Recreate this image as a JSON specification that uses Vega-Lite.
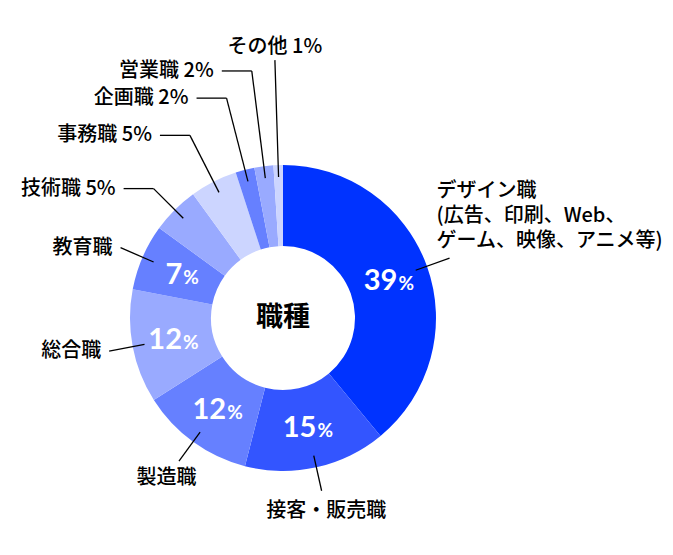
{
  "$schema": "https://vega.github.io/schema/vega-lite/v6.json",
  "width": 566,
  "height": 474,
  "autosize": "none",
  "padding": {"left": 0, "top": 81, "right": 107, "bottom": 0},
  "background": "white",
  "config": {"view": {"stroke": null}},
  "data": {
    "values": [
      {"order": 1, "category": "デザイン職", "value": 39, "label": "デザイン職\n(広告、印刷、Web、\nゲーム、映像、アニメ等)"},
      {"order": 2, "category": "接客・販売職", "value": 15, "label": "接客・販売職"},
      {"order": 3, "category": "製造職", "value": 12, "label": "製造職"},
      {"order": 4, "category": "総合職", "value": 12, "label": "総合職"},
      {"order": 5, "category": "教育職", "value": 7, "label": "教育職"},
      {"order": 6, "category": "技術職", "value": 5, "label": "技術職 5%"},
      {"order": 7, "category": "事務職", "value": 5, "label": "事務職 5%"},
      {"order": 8, "category": "企画職", "value": 2, "label": "企画職 2%"},
      {"order": 9, "category": "営業職", "value": 2, "label": "営業職 2%"},
      {"order": 10, "category": "その他", "value": 1, "label": "その他 1%"}
    ]
  },
  "transform": [
    {"window": [{"op": "sum", "field": "value", "as": "end"}], "sort": [{"field": "order", "order": "ascending"}]},
    {"calculate": "datum.end - datum.value", "as": "start"},
    {"calculate": "(datum.start + datum.value / 2) * 3.6", "as": "deg"},
    {"calculate": "datum.deg * PI / 180", "as": "rad"},
    {"calculate": "max(177, min(258, 271 - 22 * (10 - datum.order)))", "as": "re"},
    {"calculate": "141 * sin(datum.rad)", "as": "ix"},
    {"calculate": "141 * cos(datum.rad)", "as": "iy"},
    {"calculate": "datum.re * sin(datum.rad)", "as": "ex"},
    {"calculate": "datum.re * cos(datum.rad)", "as": "ey"},
    {"calculate": "datum.deg > 300 && datum.deg < 357 ? datum.ex - 30 : datum.ex", "as": "hx"},
    {"calculate": "198 * sin(datum.rad)", "as": "bx"},
    {"calculate": "198 * cos(datum.rad)", "as": "by"},
    {"calculate": "112 * sin(datum.rad)", "as": "px"},
    {"calculate": "112 * cos(datum.rad)", "as": "py"},
    {"calculate": "datum.px + (datum.value >= 10 ? 9 : 2)", "as": "nx"},
    {"calculate": "datum.deg >= 357 ? 'top' : (datum.deg > 30 && datum.deg < 135) ? 'right' : (datum.deg >= 135 && datum.deg <= 225) ? 'bottom' : 'left'", "as": "side"}
  ],
  "layer": [
    {
      "mark": {"type": "arc", "radius": 153, "innerRadius": 72, "stroke": null},
      "encoding": {
        "theta": {"field": "start", "type": "quantitative", "stack": null, "scale": {"domain": [0, 100], "range": [0, 6.283185307]}},
        "theta2": {"field": "end"},
        "color": {
          "field": "category",
          "type": "nominal",
          "legend": null,
          "scale": {
            "domain": ["デザイン職", "接客・販売職", "製造職", "総合職", "教育職", "技術職", "事務職", "企画職", "営業職", "その他"],
            "range": ["#0033FF", "#3355FF", "#6680FF", "#99AAFF", "#6680FF", "#99AAFF", "#CCD5FF", "#6680FF", "#99AAFF", "#CCD5FF"]
          }
        }
      }
    },
    {
      "mark": {"type": "rule", "color": "black", "strokeWidth": 1.3},
      "encoding": {
        "x": {"field": "ix", "type": "quantitative", "axis": null, "scale": {"domain": [-283, 283], "nice": false, "zero": false}},
        "y": {"field": "iy", "type": "quantitative", "axis": null, "scale": {"domain": [-237, 237], "nice": false, "zero": false}},
        "x2": {"field": "ex"},
        "y2": {"field": "ey"}
      }
    },
    {
      "transform": [{"filter": "datum.hx != datum.ex"}],
      "mark": {"type": "rule", "color": "black", "strokeWidth": 1.3},
      "encoding": {
        "x": {"field": "ex", "type": "quantitative", "axis": null, "scale": {"domain": [-283, 283], "nice": false, "zero": false}},
        "y": {"field": "ey", "type": "quantitative", "axis": null, "scale": {"domain": [-237, 237], "nice": false, "zero": false}},
        "x2": {"field": "hx"},
        "y2": {"field": "ey"}
      }
    },
    {
      "transform": [{"filter": "datum.side == 'left'"}],
      "mark": {"type": "text", "align": "right", "baseline": "middle", "dx": -8, "font": "Noto Sans CJK JP", "fontSize": 20, "fontWeight": 500, "color": "black"},
      "encoding": {
        "x": {"field": "hx", "type": "quantitative", "axis": null, "scale": {"domain": [-283, 283], "nice": false, "zero": false}},
        "y": {"field": "ey", "type": "quantitative", "axis": null, "scale": {"domain": [-237, 237], "nice": false, "zero": false}},
        "text": {"field": "label"}
      }
    },
    {
      "transform": [{"filter": "datum.side == 'right'"}],
      "mark": {"type": "text", "align": "left", "baseline": "top", "dx": -13, "dy": -77, "lineBreak": "\n", "lineHeight": 25, "font": "Noto Sans CJK JP", "fontSize": 20, "fontWeight": 500, "color": "black"},
      "encoding": {
        "x": {"field": "ex", "type": "quantitative", "axis": null, "scale": {"domain": [-283, 283], "nice": false, "zero": false}},
        "y": {"field": "ey", "type": "quantitative", "axis": null, "scale": {"domain": [-237, 237], "nice": false, "zero": false}},
        "text": {"field": "label"}
      }
    },
    {
      "transform": [{"filter": "datum.side == 'bottom'"}],
      "mark": {"type": "text", "align": "center", "baseline": "middle", "font": "Noto Sans CJK JP", "fontSize": 20, "fontWeight": 500, "color": "black"},
      "encoding": {
        "x": {"field": "bx", "type": "quantitative", "axis": null, "scale": {"domain": [-283, 283], "nice": false, "zero": false}},
        "y": {"field": "by", "type": "quantitative", "axis": null, "scale": {"domain": [-237, 237], "nice": false, "zero": false}},
        "text": {"field": "label"}
      }
    },
    {
      "transform": [{"filter": "datum.side == 'top'"}],
      "mark": {"type": "text", "align": "center", "baseline": "bottom", "dy": -3, "font": "Noto Sans CJK JP", "fontSize": 20, "fontWeight": 500, "color": "black"},
      "encoding": {
        "x": {"field": "ex", "type": "quantitative", "axis": null, "scale": {"domain": [-283, 283], "nice": false, "zero": false}},
        "y": {"field": "ey", "type": "quantitative", "axis": null, "scale": {"domain": [-237, 237], "nice": false, "zero": false}},
        "text": {"field": "label"}
      }
    },
    {
      "transform": [{"filter": "datum.value >= 7"}],
      "mark": {"type": "text", "align": "right", "baseline": "alphabetic", "dy": 10, "font": "Lato", "fontSize": 29, "fontWeight": "bold", "color": "white"},
      "encoding": {
        "x": {"field": "nx", "type": "quantitative", "axis": null, "scale": {"domain": [-283, 283], "nice": false, "zero": false}},
        "y": {"field": "py", "type": "quantitative", "axis": null, "scale": {"domain": [-237, 237], "nice": false, "zero": false}},
        "text": {"field": "value", "type": "nominal"}
      }
    },
    {
      "transform": [{"filter": "datum.value >= 7"}],
      "mark": {"type": "text", "align": "left", "baseline": "alphabetic", "dx": 1, "dy": 10, "font": "Lato", "fontSize": 19, "fontWeight": "bold", "color": "white"},
      "encoding": {
        "x": {"field": "nx", "type": "quantitative", "axis": null, "scale": {"domain": [-283, 283], "nice": false, "zero": false}},
        "y": {"field": "py", "type": "quantitative", "axis": null, "scale": {"domain": [-237, 237], "nice": false, "zero": false}},
        "text": {"value": "%"}
      }
    },
    {
      "transform": [{"filter": "datum.order == 1"}],
      "mark": {"type": "text", "align": "center", "baseline": "middle", "font": "Noto Sans CJK JP", "fontSize": 27, "fontWeight": "bold", "color": "black"},
      "encoding": {
        "x": {"datum": 0, "type": "quantitative", "axis": null, "scale": {"domain": [-283, 283], "nice": false, "zero": false}},
        "y": {"datum": 0, "type": "quantitative", "axis": null, "scale": {"domain": [-237, 237], "nice": false, "zero": false}},
        "text": {"value": "職種"}
      }
    }
  ]
}
